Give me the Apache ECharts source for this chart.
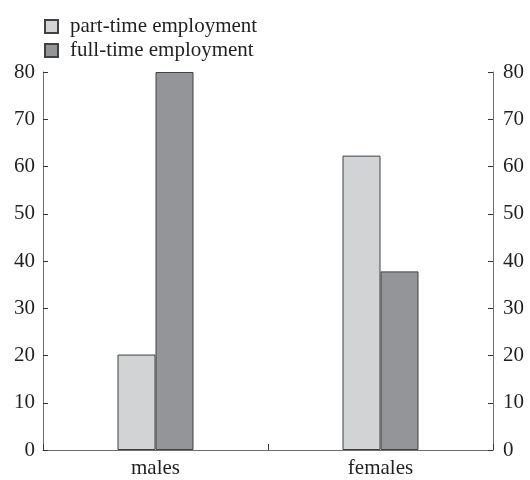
<!DOCTYPE html>
<html>
<head>
<meta charset="utf-8">
<script src="https://cdn.jsdelivr.net/npm/echarts@6/dist/echarts.min.js"></script>
<style>html,body{margin:0;padding:0;background:#fff}#c{width:530px;height:480px}</style>
</head>
<body>
<div id="c"></div>
<script>
var categories = ['males', 'females'];
var partTime = [20.2, 62.3];
var fullTime = [80, 37.8];
var seriesNames = ['part-time employment', 'full-time employment'];
var yTicks = [0, 10, 20, 30, 40, 50, 60, 70, 80];

var font = 'Liberation Serif';
var chart = echarts.init(document.getElementById('c'));
function yAxis(pos) {
  return {
    type: 'value', position: pos, min: yTicks[0], max: yTicks[yTicks.length - 1], interval: 10,
    axisLine: {show: true, lineStyle: {color: '#6d6e70', width: 1}},
    axisTick: {show: true, inside: true, length: 5, lineStyle: {color: '#333'}},
    axisLabel: {color: '#231f20', fontFamily: font, fontSize: 21, margin: pos === 'left' ? 8 : 10},
    splitLine: {show: false}
  };
}
function legend(i, top) {
  return {
    orient: 'vertical', left: 44, top: top, itemWidth: 13, itemHeight: 13, padding: 0,
    textStyle: {fontFamily: font, fontSize: 21, color: '#231f20', padding: [0, 0, 0, 7]},
    icon: 'rect',
    data: [seriesNames[i]]
  };
}
chart.setOption({
  animation: false,
  textStyle: {fontFamily: font},
  legend: [legend(0, 16), legend(1, 40)],
  grid: {left: 43, right: 37, top: 72, bottom: 30},
  xAxis: {
    type: 'category', data: categories, boundaryGap: true,
    axisLine: {show: true, lineStyle: {color: '#6d6e70', width: 1}},
    axisTick: {show: true, inside: true, length: 6, lineStyle: {color: '#333'}},
    axisLabel: {color: '#231f20', fontFamily: font, fontSize: 21, margin: 8}
  },
  yAxis: [yAxis('left'), yAxis('right')],
  series: [
    {name: seriesNames[0], type: 'bar', data: partTime, barWidth: 38, barGap: '0%',
     itemStyle: {color: '#d1d3d4', borderColor: '#414042', borderWidth: 1}},
    {name: seriesNames[1], type: 'bar', data: fullTime, barWidth: 38, barGap: '0%',
     itemStyle: {color: '#939598', borderColor: '#414042', borderWidth: 1}}
  ]
});
</script>
</body>
</html>
